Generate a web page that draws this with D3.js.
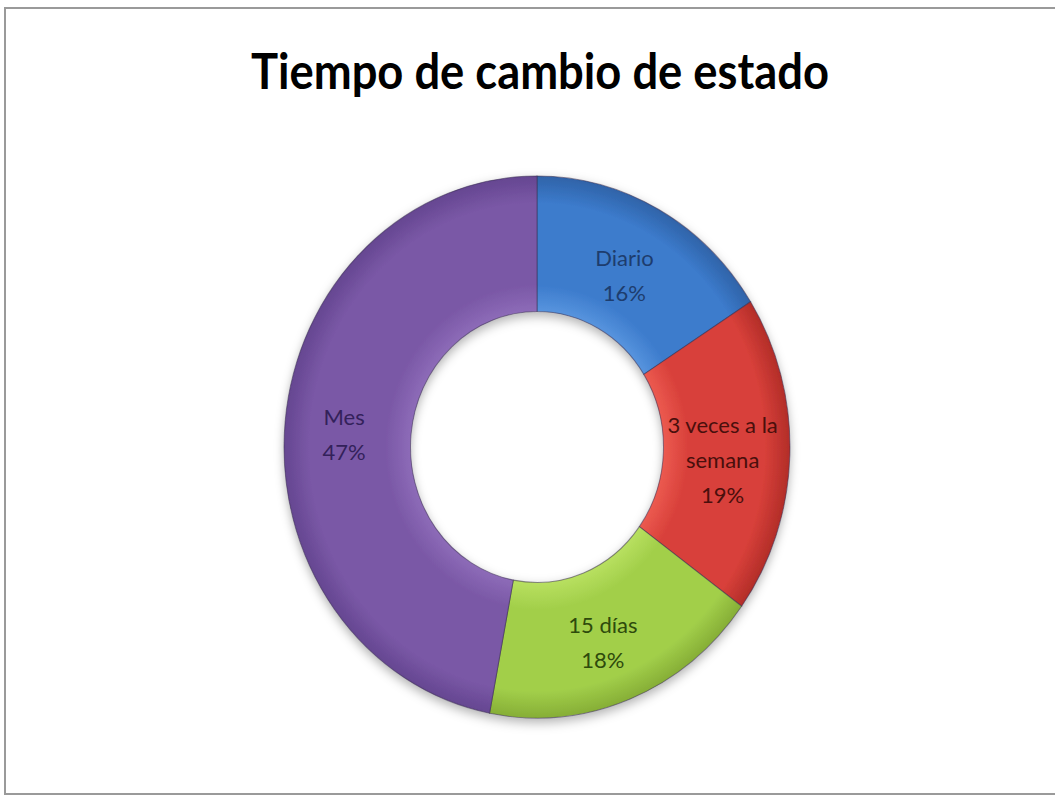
<!DOCTYPE html>
<html>
<head>
<meta charset="utf-8">
<script src="https://cdn.jsdelivr.net/npm/d3@7"></script>
<style>
  html, body { margin: 0; padding: 0; background: #fff; }
  svg { display: block; }
</style>
</head>
<body>
<svg id="chart" width="1055" height="796"></svg>
<script>
// ---- data ----
const categories = ["Diario", "3 veces a la semana", "15 días", "Mes"];
const values = [16, 19, 18, 47];
const labelLines = [["Diario"], ["3 veces a la", "semana"], ["15 días"], ["Mes"]];
const title = "Tiempo de cambio de estado";

// ---- styles ----
const fills = ["#3c7bcc", "#d8403a", "#a2cf4a", "#7a58a6"];
const lights = ["#5794de", "#ec5a50", "#b8e060", "#8d6bb8"];
const darks = ["#2f63a8", "#b22d28", "#86ae36", "#654691"];
const textCols = ["#1d3d6e", "#4a0f0c", "#2e4a0c", "#33215a"];

const svg = d3.select("#chart");
const W = 1055, H = 796;

// frame
svg.append("rect")
  .attr("x", 5).attr("y", 8).attr("width", W + 10).attr("height", H - 10)
  .attr("fill", "#fff").attr("stroke", "#9a9a9a").attr("stroke-width", 2);

// title
svg.append("text")
  .attr("x", 540).attr("y", 89)
  .attr("text-anchor", "middle")
  .attr("font-family", "Lato, 'Open Sans', sans-serif")
  .attr("font-weight", "bold")
  .attr("font-size", 50)
  .attr("textLength", 578)
  .attr("lengthAdjust", "spacingAndGlyphs")
  .attr("fill", "#000")
  .text(title);

const cx = 537, cy = 447, R = 253, sy = 271 / 253, inner = 0.5 * R;

const defs = svg.append("defs");
const f = defs.append("filter").attr("id", "shadow")
  .attr("x", "-20%").attr("y", "-20%").attr("width", "140%").attr("height", "140%");
f.append("feDropShadow").attr("dx", 0).attr("dy", 4).attr("stdDeviation", 5)
  .attr("flood-color", "#000").attr("flood-opacity", 0.3);

categories.forEach((c, i) => {
  const g = defs.append("radialGradient").attr("id", "g" + i)
    .attr("gradientUnits", "userSpaceOnUse")
    .attr("cx", 0).attr("cy", 0).attr("r", R);
  g.append("stop").attr("offset", 0.5).attr("stop-color", lights[i]);
  g.append("stop").attr("offset", 0.6).attr("stop-color", fills[i]);
  g.append("stop").attr("offset", 0.9).attr("stop-color", fills[i]);
  g.append("stop").attr("offset", 1).attr("stop-color", darks[i]);
});

const pie = d3.pie().sort(null).value(d => d);
const arcs = pie(values);
const arc = d3.arc().innerRadius(inner).outerRadius(R);

const g = svg.append("g")
  .attr("transform", `translate(${cx},${cy}) scale(1,${sy})`);

g.append("g").attr("filter", "url(#shadow)")
  .selectAll("path").data(arcs).join("path")
  .attr("d", arc)
  .attr("fill", (d, i) => `url(#g${i})`)
  .attr("stroke", "#3a3050")
  .attr("stroke-opacity", 0.55)
  .attr("stroke-width", 1);

// labels
const mid = d3.arc().innerRadius((inner + R) / 2).outerRadius((inner + R) / 2);
const lh = 35;
arcs.forEach((d, i) => {
  const [x, y0] = mid.centroid(d);
  const lines = labelLines[i].concat([d3.format(".0%")(d.data / d3.sum(values))]);
  const y = cy + y0 * sy;
  const t = svg.append("text")
    .attr("text-anchor", "middle")
    .attr("font-family", "Lato, 'Open Sans', sans-serif")
    .attr("font-size", 22)
    .attr("fill", textCols[i]);
  lines.forEach((ln, k) => {
    t.append("tspan")
      .attr("x", cx + x - 4)
      .attr("y", y + (k - (lines.length - 1) / 2) * lh + 15)
      .text(ln);
  });
});
</script>
</body>
</html>
